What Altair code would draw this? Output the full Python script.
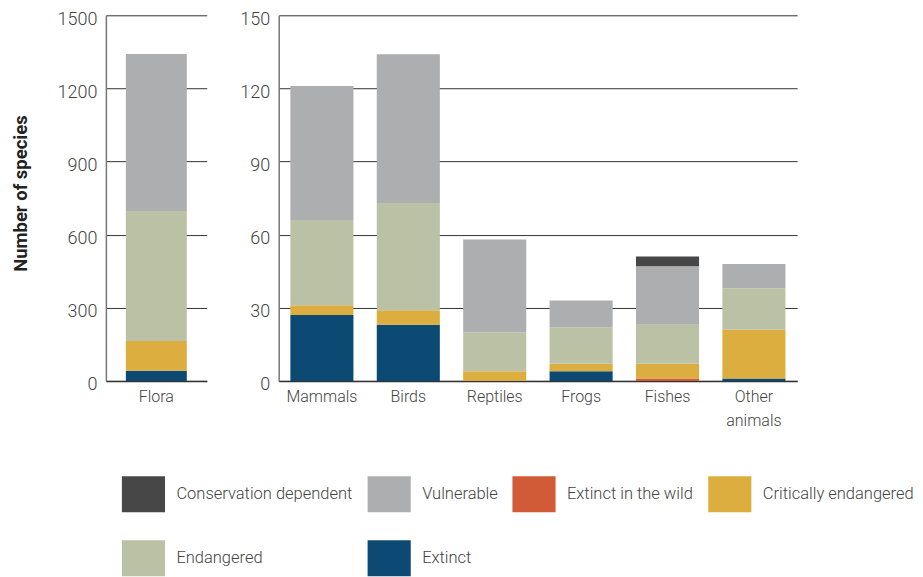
import altair as alt
import pandas as pd

categories = ["Flora", "Mammals", "Birds", "Reptiles", "Frogs", "Fishes", "Other animals"]
groups = ["Flora", "Fauna", "Fauna", "Fauna", "Fauna", "Fauna", "Fauna"]

extinct = [42, 27, 23, 0, 4, 0, 1]
extinct_in_wild = [0, 0, 0, 0, 0, 1, 0]
critically_endangered = [122, 4, 6, 4, 3, 6, 20]
endangered = [533, 35, 44, 16, 15, 16, 17]
vulnerable = [644, 55, 61, 38, 11, 24, 10]
conservation_dependent = [0, 0, 0, 0, 0, 4, 0]

flora_ticks = [0, 300, 600, 900, 1200, 1500]
fauna_ticks = [0, 30, 60, 90, 120, 150]

legend_order = ["Conservation dependent", "Vulnerable", "Extinct in the wild",
                "Critically endangered", "Endangered", "Extinct"]
colors = ["#474748", "#adaeb0", "#d15b37", "#dcad3f", "#bbc1a4", "#0c4a74"]

series = [
    ("Extinct", extinct),
    ("Extinct in the wild", extinct_in_wild),
    ("Critically endangered", critically_endangered),
    ("Endangered", endangered),
    ("Vulnerable", vulnerable),
    ("Conservation dependent", conservation_dependent),
]

rows = []
for i, cat in enumerate(categories):
    for k, (status, vals) in enumerate(series):
        if vals[i] > 0:
            rows.append({"group": groups[i], "category": cat, "status": status,
                         "value": vals[i], "order": k})
df = pd.DataFrame(rows)

FONT = "Roboto"
TXT = "#444444"

color = alt.Color(
    "status:N",
    scale=alt.Scale(domain=legend_order, range=colors),
    legend=alt.Legend(
        title=None, orient="none", legendX=19.6, legendY=461.5,
        columns=4, direction="horizontal",
        symbolType="M-1.2,-1H1.2V1H-1.2Z", symbolSize=1296,
        symbolStrokeWidth=0, symbolOpacity=1,
        labelFont=FONT, labelFontSize=16.5, labelFontWeight=300, labelColor=TXT,
        labelOffset=15, rowPadding=28, columnPadding=14, padding=0,
        labelLimit=400,
    ),
)

def xaxis():
    return alt.Axis(title=None, labelAngle=0, ticks=False, tickSize=0,
                    domainColor="#333333", domainWidth=1.5, labelPadding=8,
                    labelFont=FONT, labelFontSize=16, labelFontWeight=300, labelColor=TXT,
                    labelLineHeight=24,
                    labelExpr="datum.label == 'Other animals' ? ['Other', 'animals'] : datum.label")

def yaxis(vals, title):
    kw = dict(values=vals, format="d", grid=True, gridColor="#333333", gridWidth=1,
              ticks=False, tickSize=0, domainColor="#777777", domainWidth=1.5,
              labelPadding=9, labelOffset=4,
              labelFont=FONT, labelFontSize=18, labelFontWeight=300, labelColor=TXT)
    if title:
        kw.update(title=title, titleFont=FONT, titleFontSize=18.5, titleFontWeight="bold",
                  titleColor="#222222", titlePadding=27, titleY=178)
    else:
        kw.update(title=None)
    return alt.Axis(**kw)

flora = alt.Chart(df).transform_filter(alt.datum.group == "Flora").mark_bar().encode(
    x=alt.X("category:N", sort=categories,
            scale=alt.Scale(paddingInner=0.27, paddingOuter=0.239), axis=xaxis()),
    y=alt.Y("value:Q", stack="zero",
            scale=alt.Scale(domain=[0, 1500], nice=False),
            axis=yaxis(flora_ticks, "Number of species")),
    color=color,
    order=alt.Order("order:Q", sort="ascending"),
).properties(width=101, height=366)

fauna = alt.Chart(df).transform_filter(alt.datum.group == "Fauna").mark_bar().encode(
    x=alt.X("category:N", sort=categories[1:],
            scale=alt.Scale(paddingInner=0.27, paddingOuter=0.135), axis=xaxis()),
    y=alt.Y("value:Q", stack="zero",
            scale=alt.Scale(domain=[0, 150], nice=False),
            axis=yaxis(fauna_ticks, None)),
    color=color,
    order=alt.Order("order:Q", sort="ascending"),
).properties(width=519, height=366)

chart = alt.hconcat(flora, fauna, spacing=33).properties(
    padding={"left": 3, "top": 2, "right": 0, "bottom": 0}
).configure_view(stroke=None)

chart.save("out.html", embed_options={"renderer": "svg", "actions": False})
